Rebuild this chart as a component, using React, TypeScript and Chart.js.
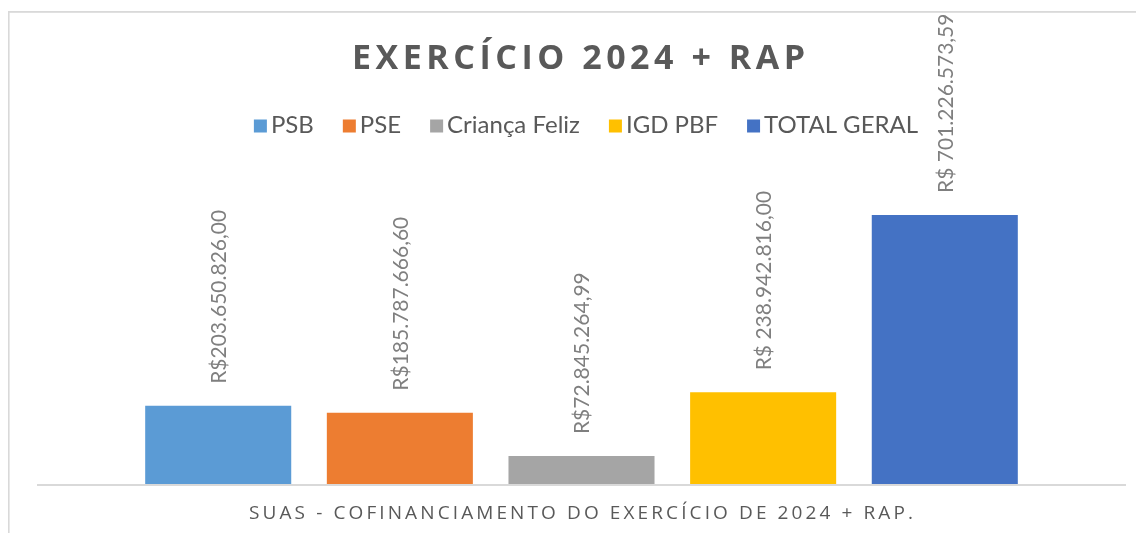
import React, { useEffect, useRef } from 'react';
import { Chart, registerables } from 'chart.js';

Chart.register(...registerables);

const chartTitle = 'EXERCÍCIO 2024 + RAP';
const axisTitle = 'SUAS - COFINANCIAMENTO DO EXERCÍCIO DE 2024 + RAP.';
const categories = ['SUAS'];
const seriesNames = ['PSB', 'PSE', 'Criança Feliz', 'IGD PBF', 'TOTAL GERAL'];
const seriesValues = [203650826.0, 185787666.6, 72845264.99, 238942816.0, 701226573.59];
const valueLabels = [
  'R$203.650.826,00',
  'R$185.787.666,60',
  'R$72.845.264,99',
  'R$ 238.942.816,00',
  'R$ 701.226.573,59',
];
const seriesColors = ['#5B9BD5', '#ED7D31', '#A5A5A5', '#FFC000', '#4472C4'];
const yMax = 800000000;

function drawSpaced(ctx: CanvasRenderingContext2D, text: string, cx: number, y: number, targetWidth: number) {
  const n = text.length;
  const w0 = ctx.measureText(text).width;
  const sp = n > 1 ? (targetWidth - w0) / (n - 1) : 0;
  const x0 = cx - targetWidth / 2;
  ctx.textAlign = 'left';
  for (let i = 0; i < n; i++) {
    const x = x0 + ctx.measureText(text.slice(0, i)).width + i * sp;
    ctx.fillText(text[i], x, y);
  }
}

const decorPlugin = {
  id: 'decor',
  afterDraw(chart: any) {
    const ctx: CanvasRenderingContext2D = chart.ctx;
    const W = chart.width;
    const H = chart.height;
    const area = chart.chartArea;
    ctx.save();
    // frame
    ctx.fillStyle = '#D9D9D9';
    ctx.fillRect(0, 3, 1.6, H);
    ctx.fillRect(0, 3, W, 1.8);
    // baseline
    const y0 = chart.scales.y.getPixelForValue(0);
    ctx.fillRect(area.left, y0, area.right - area.left, 2);

    // title
    ctx.fillStyle = '#595959';
    ctx.font = 'bold 34px "Open Sans"';
    ctx.textBaseline = 'alphabetic';
    drawSpaced(ctx, chartTitle, 570.5, 61, 453);

    // legend
    ctx.font = '24px Lato';
    const box = 13;
    const gapText = 4;
    const gapItem = 29;
    const widths = seriesNames.map((s) => box + gapText + ctx.measureText(s).width);
    const total = widths.reduce((a, b) => a + b, 0) + gapItem * (seriesNames.length - 1);
    let x = 578 - total / 2;
    seriesNames.forEach((s, i) => {
      ctx.fillStyle = seriesColors[i];
      ctx.fillRect(x, 111.5, box, box);
      ctx.fillStyle = '#595959';
      ctx.textAlign = 'left';
      ctx.fillText(s, x + box + gapText, 125);
      x += widths[i] + gapItem;
    });

    // axis title
    ctx.fillStyle = '#595959';
    ctx.font = '19px "Open Sans"';
    drawSpaced(ctx, axisTitle, 573, 511, 664);
    ctx.restore();
  },
  afterDatasetsDraw(chart: any) {
    const ctx: CanvasRenderingContext2D = chart.ctx;
    ctx.save();
    ctx.fillStyle = '#7F7F7F';
    ctx.font = '21px Lato';
    ctx.textAlign = 'left';
    ctx.textBaseline = 'middle';
    chart.data.datasets.forEach((_d: any, i: number) => {
      const meta = chart.getDatasetMeta(i);
      const el = meta.data[0];
      if (!el) return;
      ctx.save();
      ctx.translate(el.x + 1, el.y - 22);
      ctx.rotate(-Math.PI / 2);
      ctx.fillText(valueLabels[i], 0, 0);
      ctx.restore();
    });
    ctx.restore();
  },
};

export default function App() {
  const ref = useRef<HTMLCanvasElement | null>(null);
  useEffect(() => {
    document.documentElement.style.overflow = 'hidden';
    const canvas = ref.current;
    if (!canvas) return;
    const chart = new Chart(canvas, {
      type: 'bar',
      data: {
        labels: categories,
        datasets: seriesNames.map((name, i) => ({
          label: name,
          data: [seriesValues[i]],
          backgroundColor: seriesColors[i],
          borderWidth: 0,
          categoryPercentage: 0.834,
          barPercentage: 0.804,
        })),
      },
      options: {
        responsive: false,
        animation: false,
        layout: { padding: { left: 29, right: 18, top: 169, bottom: 49 } },
        plugins: {
          legend: { display: false },
          title: { display: false },
          tooltip: { enabled: false },
        },
        scales: {
          x: { display: false, grid: { display: false } },
          y: { display: false, min: 0, max: yMax, grid: { display: false } },
        },
      },
      plugins: [decorPlugin],
    });
    return () => chart.destroy();
  }, []);
  return <canvas ref={ref} width={1136} height={525} style={{ display: 'block' }} />;
}
